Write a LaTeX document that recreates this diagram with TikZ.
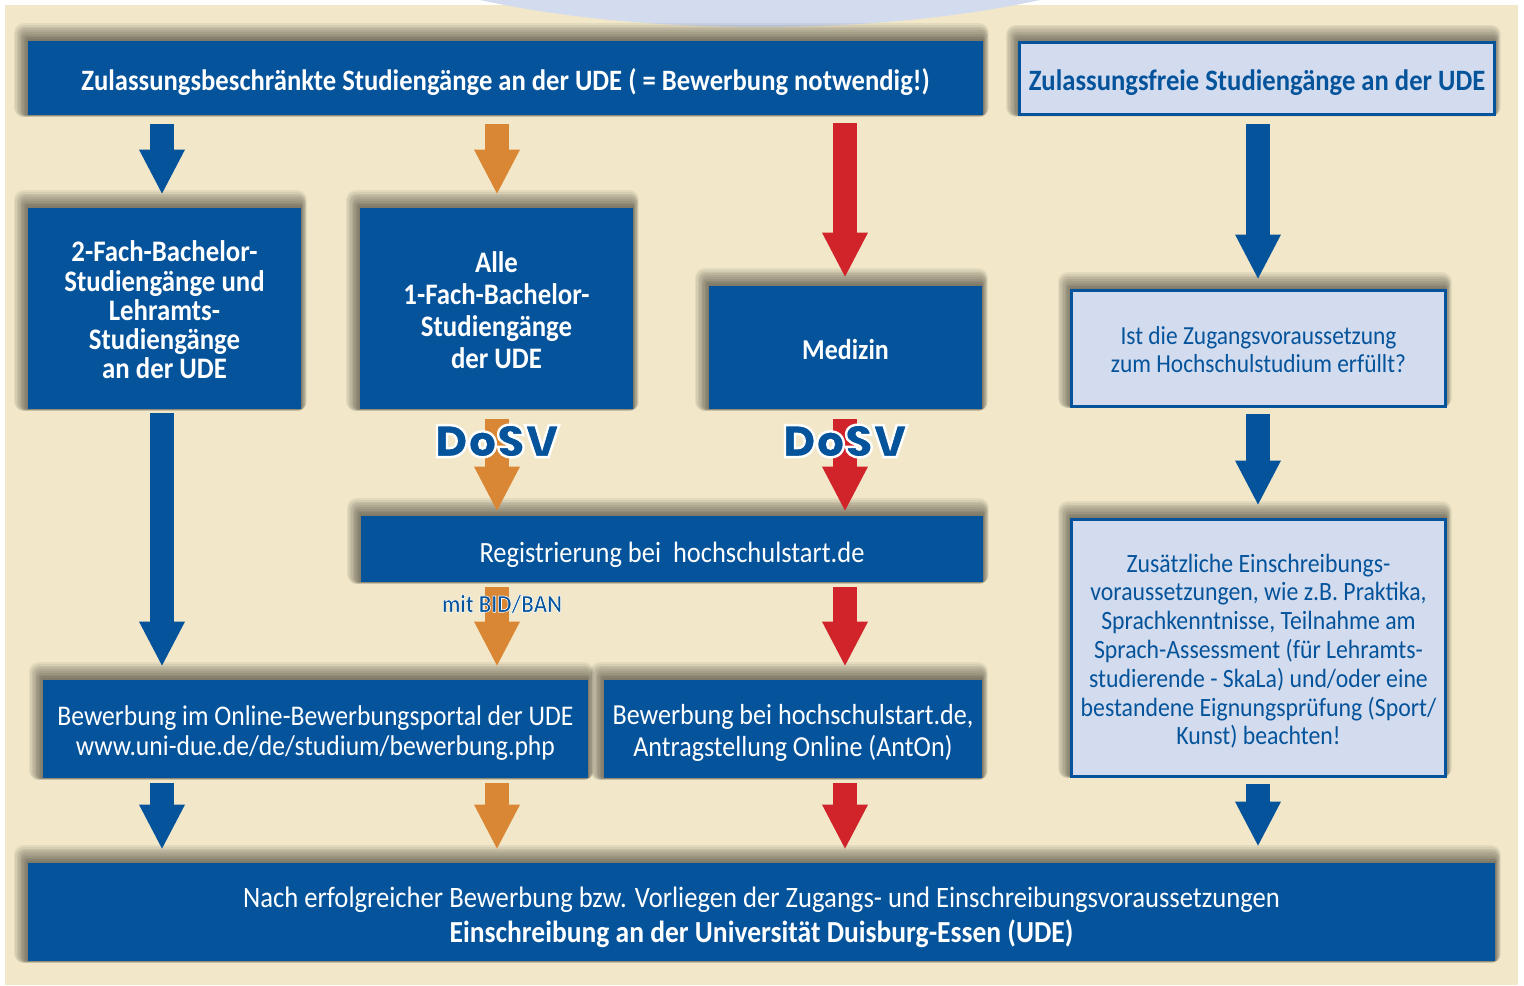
\documentclass[tikz,border=0pt]{standalone}
\usepackage{fontspec}
\setmainfont[FakeStretch=0.9]{Carlito}
\newfontfamily\dosvfont{Poppins Black}
\usetikzlibrary{arrows.meta,positioning}

\definecolor{udeblue}{HTML}{04539B}
\definecolor{udeorange}{HTML}{D98735}
\definecolor{uderot}{HTML}{D1232A}
\definecolor{udesand}{HTML}{F2E8C9}
\definecolor{udelight}{HTML}{D3DCEE}
% Text with a white outline
\newcommand{\halotext}[2]{\special{pdf:code q 2 Tr #1 w 1 1 1 RG}#2\special{pdf:code Q}}
\newcommand{\fsize}[2]{\fontsize{#1}{#2}\selectfont}
% Taller first line, pushes the text of a box down
\newcommand{\sink}[1]{\rule{0pt}{#1}}

\tikzset{
    shadowpass/.style={preaction={draw=black, draw opacity=0.06, line width=#1, line join=round, transform canvas={xshift=-0.2*#1, yshift=0.4*#1}}},
    softshadow/.style={shadowpass=10pt, shadowpass=9pt, shadowpass=8pt, shadowpass=7pt, shadowpass=6pt, shadowpass=5pt, shadowpass=4pt, shadowpass=3pt, shadowpass=2pt, shadowpass=1pt},
    bluebox/.style={fill=udeblue, text=white, align=center, inner sep=0pt, softshadow},
    lightbox/.style={fill=udelight, draw=udeblue, line width=1.5pt, text=udeblue, align=center, inner sep=0pt, softshadow},
    flowarrow/.style={line width=12pt, draw=#1, -{Triangle[length=22pt,width=23pt,line width=0pt,fill=#1]}},
    dosvlabel/.style={font=\dosvfont\fsize{22.5}{26}, text=udeblue, inner sep=0pt},
}

\begin{document}
\begin{tikzpicture}[x=0.5pt,y=-0.5pt]
    % Page background with the cut-off ellipse on top
    \useasboundingbox (0,0) rectangle (1524,985);
    \fill[udesand] (5,5) rectangle (1518,985);
    \begin{scope}
        \clip (0,0) rectangle (1524,985);
        \fill[udelight] (760,-100) ellipse (454 and 127);
    \end{scope}

    % Column positions of the arrows
    \coordinate (colA) at (162,0);
    \coordinate (colB) at (497,0);
    \coordinate (colC) at (845,0);
    \coordinate (colD) at (1258,0);

    % Boxes
    \node[bluebox, minimum width=477.5pt, minimum height=37pt, font=\bfseries\fsize{14.8}{17}] (beschr) at (505.5,78) {\sink{15.2pt}Zulassungsbeschränkte Studiengänge an der UDE ( = Bewerbung notwendig!)};
    \node[lightbox, minimum width=237.5pt, minimum height=36pt, font=\bfseries\fsize{14.8}{17}] (frei) at (1257,78.5) {\sink{14.9pt}Zulassungsfreie Studiengänge an der UDE};
    \node[bluebox, minimum width=136.5pt, minimum height=100.5pt, font=\bfseries\fsize{14.9}{14.6}] (zweifach) at (164.5,308.5) {\sink{12pt}2-Fach-Bachelor-\\Studiengänge und\\Lehramts-\\Studiengänge\\an der UDE};
    \node[bluebox, minimum width=136.5pt, minimum height=100.5pt, font=\bfseries\fsize{14.9}{16}] (einfach) at (496.5,308.5) {\sink{12pt}Alle\\1-Fach-Bachelor-\\Studiengänge\\der UDE};
    \node[bluebox, minimum width=136.5pt, minimum height=61.5pt, font=\bfseries\fsize{14.4}{16}] (medizin) at (845.5,347.5) {\sink{11.6pt}Medizin};
    \node[lightbox, minimum width=187pt, minimum height=58pt, font=\fsize{13}{14}] (zugang) at (1258.5,348) {\sink{10.6pt}Ist die Zugangsvoraussetzung\\zum Hochschulstudium erfüllt?};
    \node[lightbox, minimum width=187pt, minimum height=128.5pt, font=\fsize{13.2}{14.4}] (zusatz) at (1258.5,647.5) {\sink{12.8pt}Zusätzliche Einschreibungs-\\voraussetzungen, wie z.B. Praktika,\\Sprachkenntnisse, Teilnahme am\\Sprach-Assessment (für Lehramts-\\studierende - SkaLa) und/oder eine\\bestandene Eignungsprüfung (Sport/\\Kunst) beachten!};
    \node[bluebox, minimum width=311pt, minimum height=33pt, font=\fsize{14.7}{17}] (registrierung) at (672,549) {\sink{15.9pt}Registrierung bei\ \ hochschulstart.de};
    \node[bluebox, minimum width=272.5pt, minimum height=49pt, font=\fsize{14.25}{15}] (portal) at (315.5,729) {\sink{13.5pt}Bewerbung im Online-Bewerbungsportal der UDE\\www.uni-due.de/de/studium/bewerbung.php};
    \node[bluebox, minimum width=189pt, minimum height=49pt, font=\fsize{14.5}{16}] (antrag) at (793,729) {\sink{13.7pt}Bewerbung bei hochschulstart.de,\\Antragstellung Online (AntOn)};
    \node[bluebox, minimum width=733.5pt, minimum height=49pt, font=\fsize{14.8}{17.5}] (einschreibung) at (761.5,912) {\sink{15.9pt}Nach erfolgreicher Bewerbung bzw. Vorliegen der Zugangs- und Einschreibungsvoraussetzungen\\\fsize{15.3}{17.5}\textbf{Einschreibung an der Universität Duisburg-Essen (UDE)}};

    % First column
    \draw[flowarrow=udeblue, shorten <=4.5pt, shorten >=7pt] (beschr.south -| colA) -- (zweifach.north -| colA);
    \draw[flowarrow=udeblue, shorten <=2pt, shorten >=7pt] (zweifach.south -| colA) -- (portal.north -| colA);
    \draw[flowarrow=udeblue, shorten <=2.5pt, shorten >=7pt] (portal.south -| colA) -- (einschreibung.north -| colA);

    % Second column
    \draw[flowarrow=udeorange, shorten <=4.5pt, shorten >=7pt] (beschr.south -| colB) -- (einfach.north -| colB);
    \draw[flowarrow=udeorange, shorten <=5pt, shorten >=2.5pt] (einfach.south -| colB) -- (registrierung.north -| colB);
    \draw[flowarrow=udeorange, shorten <=2.5pt, shorten >=7pt] (registrierung.south -| colB) -- (portal.north -| colB);
    \draw[flowarrow=udeorange, shorten <=2.5pt, shorten >=7pt] (portal.south -| colB) -- (einschreibung.north -| colB);

    % Third column
    \draw[flowarrow=uderot, shorten <=4pt, shorten >=4.5pt] (beschr.south -| colC) -- (medizin.north -| colC);
    \draw[flowarrow=uderot, shorten <=5pt, shorten >=2.5pt] (medizin.south -| colC) -- (registrierung.north -| colC);
    \draw[flowarrow=uderot, shorten <=2.5pt, shorten >=7pt] (registrierung.south -| colC) -- (antrag.north -| colC);
    \draw[flowarrow=uderot, shorten <=2.5pt, shorten >=7pt] (antrag.south -| colC) -- (einschreibung.north -| colC);

    % Fourth column
    \draw[flowarrow=udeblue, shorten <=4pt, shorten >=5pt] (frei.south -| colD) -- (zugang.north -| colD);
    \draw[flowarrow=udeblue, shorten <=3pt, shorten >=6.5pt] (zugang.south -| colD) -- (zusatz.north -| colD);
    \draw[flowarrow=udeblue, shorten <=3pt, shorten >=8.5pt] (zusatz.south -| colD) -- (einschreibung.north -| colD);

    % Labels on the arrows
    \node[dosvlabel] (dosvB) at (497,441) {\halotext{1.2}{DoSV}};
    \node[dosvlabel] (dosvC) at (845,441) {\halotext{1.2}{DoSV}};
    \node[font=\bfseries\fsize{12.5}{14}, text=udeblue, inner sep=0pt] (bid) at (502,604) {\halotext{0.3}{mit BID/BAN}};
\end{tikzpicture}
\end{document}
